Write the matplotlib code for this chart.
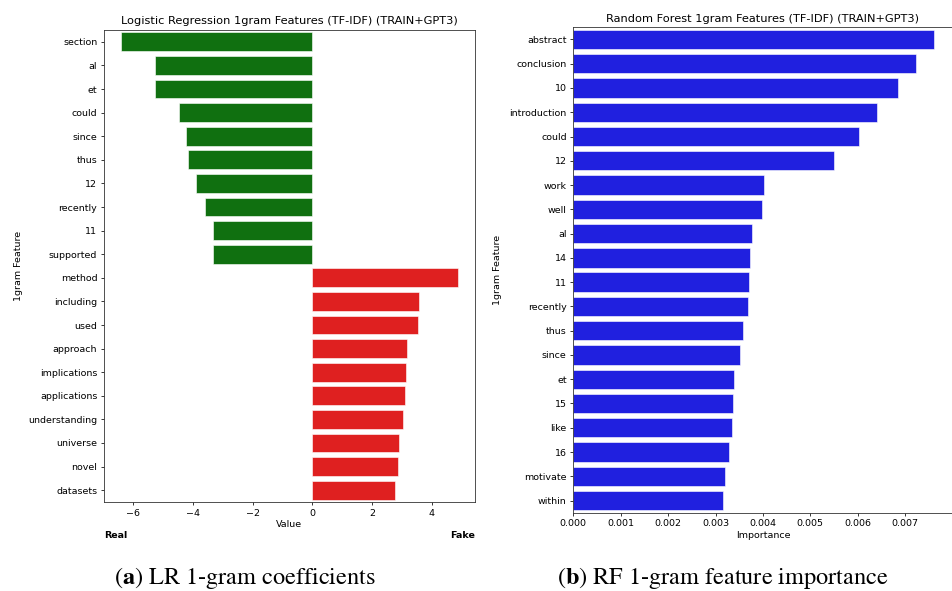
import matplotlib
matplotlib.use("Agg")
import matplotlib.pyplot as plt

# LR coefficients (negative -> Real, positive -> Fake)
lr_features = ["section", "al", "et", "could", "since", "thus", "12", "recently", "11", "supported",
               "method", "including", "used", "approach", "implications", "applications",
               "understanding", "universe", "novel", "datasets"]
lr_values = [-6.41, -5.25, -5.25, -4.46, -4.24, -4.15, -3.91, -3.60, -3.34, -3.32,
             4.88, 3.58, 3.55, 3.18, 3.14, 3.10, 3.05, 2.89, 2.86, 2.77]

# RF feature importances
rf_features = ["abstract", "conclusion", "10", "introduction", "could", "12", "work", "well", "al",
               "14", "11", "recently", "thus", "since", "et", "15", "like", "16", "motivate", "within"]
rf_values = [0.00762, 0.00723, 0.00685, 0.00641, 0.00603, 0.00551, 0.00403, 0.00399, 0.00378,
             0.00372, 0.00371, 0.00369, 0.00357, 0.00352, 0.00340, 0.00337, 0.00335, 0.00328,
             0.00321, 0.00316]

GREEN = "#107010"
RED = "#df2020"
BLUE = "#2020df"

fs = 6.8
plt.rcParams["font.size"] = fs
plt.rcParams["axes.linewidth"] = 0.6
plt.rcParams["xtick.major.size"] = 2.4
plt.rcParams["ytick.major.size"] = 2.4
plt.rcParams["xtick.major.width"] = 0.55
plt.rcParams["ytick.major.width"] = 0.55
plt.rcParams["xtick.major.pad"] = 2.4
plt.rcParams["ytick.major.pad"] = 2.4
plt.rcParams["axes.edgecolor"] = "#333333"
plt.rcParams["mathtext.fontset"] = "stix"

fig = plt.figure(figsize=(9.53, 5.91), dpi=100)

# ── 左图：LR 系数 ──
ax1 = fig.add_axes([0.1091, 0.1506, 0.3893, 0.7986])
pos = range(len(lr_features))
colors = [GREEN if v < 0 else RED for v in lr_values]
ax1.barh(pos, lr_values, height=0.8, color=colors, edgecolor="white", linewidth=0.4)
ax1.set_yticks(list(pos))
ax1.set_yticklabels(lr_features)
ax1.set_ylim(len(lr_features) - 0.5, -0.5)
ax1.set_title("Logistic Regression 1gram Features (TF-IDF) (TRAIN+GPT3)", fontsize=8.2, pad=4)
ax1.set_xlabel("Value", labelpad=2)
ax1.set_ylabel("1gram Feature")
ax1.yaxis.set_label_coords(-0.218, 0.5)
ax1.text(0.0, -0.07, "Real", transform=ax1.transAxes, ha="left", va="center", fontweight="bold")
ax1.text(1.0, -0.07, "Fake", transform=ax1.transAxes, ha="right", va="center", fontweight="bold")

# ── 右图：RF 重要性 ──
ax2 = fig.add_axes([0.6016, 0.1325, 0.3979, 0.8213])
pos = range(len(rf_features))
ax2.barh(pos, rf_values, height=0.8, color=BLUE, edgecolor="white", linewidth=0.4)
ax2.set_yticks(list(pos))
ax2.set_yticklabels(rf_features)
ax2.set_ylim(len(rf_features) - 0.5, -0.5)
ax2.set_xlim(0, max(rf_values) * 1.05)
ax2.set_xticks([0.000, 0.001, 0.002, 0.003, 0.004, 0.005, 0.006, 0.007])
ax2.set_xticklabels(["0.000", "0.001", "0.002", "0.003", "0.004", "0.005", "0.006", "0.007"])
ax2.set_title("Random Forest 1gram Features (TF-IDF) (TRAIN+GPT3)", fontsize=8.2, pad=4)
ax2.set_xlabel("Importance", labelpad=2)
ax2.set_ylabel("1gram Feature")
ax2.yaxis.set_label_coords(-0.188, 0.5)

# 子图标题
cap_kw = dict(fontsize=17.5, family="STIXGeneral", ha="center", va="baseline")
fig.text(245 / 953, 1 - 584 / 591, r"($\mathbf{a}$) LR 1-gram coefficients", **cap_kw)
fig.text(723 / 953, 1 - 584 / 591, r"($\mathbf{b}$) RF 1-gram feature importance", **cap_kw)

fig.savefig("out.png", dpi=100, facecolor="white")
